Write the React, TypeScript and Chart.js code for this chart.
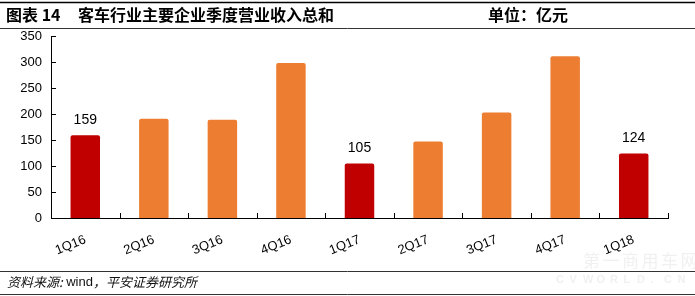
import React, { useEffect, useRef } from "react";
import { Chart, registerables } from "chart.js";

Chart.register(...registerables);

const categories = ["1Q16", "2Q16", "3Q16", "4Q16", "1Q17", "2Q17", "3Q17", "4Q17", "1Q18"];
const revenue = [159, 191, 189, 298, 105, 147, 203, 311, 124];
const highlighted = [true, false, false, false, true, false, false, false, true];
const yTicks = [0, 50, 100, 150, 200, 250, 300, 350];

const titleLeft = "图表 14";
const titleMain = "客车行业主要企业季度营业收入总和";
const titleUnit = "单位：亿元";
const sourceParts = [
  { text: "资料来源:", italic: true },
  { text: " wind", italic: false },
  { text: "，平安证券研究所", italic: true },
];

const RED = "#C00000";
const ORANGE = "#ED7D31";
const CJK = '"Noto Sans CJK SC", "Liberation Sans", sans-serif';
const LAT = '"Liberation Sans", Arial, sans-serif';

const decorPlugin = {
  id: "decor",
  beforeDraw(chart: any) {
    const ctx = chart.ctx;
    ctx.save();
    ctx.fillStyle = "#ffffff";
    ctx.fillRect(0, 0, chart.width, chart.height);
    // watermark
    ctx.fillStyle = "rgba(200,200,200,0.28)";
    ctx.font = `17px ${CJK}`;
    ctx.textBaseline = "middle";
    ctx.textAlign = "left";
    const wm = ["第", "一", "商", "用", "车", "网"];
    wm.forEach((c, i) => ctx.fillText(c, 583 + i * 19.5, 261));
    ctx.font = `bold 11px ${LAT}`;
    const wm2 = ["C", "V", "W", "O", "R", "L", "D", ".", "C", "N"];
    wm2.forEach((c, i) => ctx.fillText(c, 556 + i * 13.5, 280));
    ctx.restore();
  },
  afterDraw(chart: any) {
    const ctx = chart.ctx;
    ctx.save();
    // inward tick marks
    const ys = chart.scales.y;
    const area = chart.chartArea;
    ctx.strokeStyle = "#000000";
    ctx.lineWidth = 1;
    ctx.beginPath();
    const n = categories.length;
    for (let i = 1; i <= n; i++) {
      const x = Math.round(area.left + (i * (area.right - area.left)) / n) + 0.5;
      ctx.moveTo(x, area.bottom);
      ctx.lineTo(x, area.bottom - 5);
    }
    yTicks.forEach((v) => {
      const y = Math.round(ys.getPixelForValue(v)) + 0.5;
      ctx.moveTo(area.left, y);
      ctx.lineTo(area.left + 5, y);
    });
    ctx.stroke();

    ctx.strokeStyle = "#000000";
    ctx.lineWidth = 1.5;
    ctx.beginPath();
    ctx.moveTo(0, 2.5);
    ctx.lineTo(695, 2.5);
    ctx.stroke();
    ctx.lineWidth = 1;
    ctx.strokeStyle = "#333333";
    ctx.beginPath();
    ctx.moveTo(0, 28.5);
    ctx.lineTo(695, 28.5);
    ctx.moveTo(0, 271.5);
    ctx.lineTo(695, 271.5);
    ctx.moveTo(0, 294.5);
    ctx.lineTo(695, 294.5);
    ctx.stroke();

    ctx.fillStyle = "#000000";
    ctx.textBaseline = "middle";
    ctx.textAlign = "left";
    ctx.font = `bold 16px ${CJK}`;
    ctx.fillText(titleLeft, 6, 15);
    ctx.fillText(titleMain, 78, 15);
    ctx.fillText(titleUnit, 488, 15);

    ctx.fillStyle = "#111111";
    let sx = 7;
    sourceParts.forEach((p) => {
      ctx.font = p.italic ? `italic 13px ${CJK}` : `13px ${LAT}`;
      ctx.fillText(p.text, sx, 282);
      sx += ctx.measureText(p.text).width;
    });
    ctx.restore();
  },
};

const valueLabelPlugin = {
  id: "valueLabels",
  afterDatasetsDraw(chart: any) {
    const ctx = chart.ctx;
    const meta = chart.getDatasetMeta(0);
    ctx.save();
    ctx.font = `14px ${LAT}`;
    ctx.fillStyle = "#000000";
    ctx.textAlign = "center";
    ctx.textBaseline = "bottom";
    meta.data.forEach((bar: any, i: number) => {
      if (!highlighted[i]) return;
      ctx.fillText(String(revenue[i]), bar.x, bar.y - 8);
    });
    ctx.restore();
  },
};

export default function App() {
  const ref = useRef<HTMLCanvasElement>(null);
  useEffect(() => {
    if (!ref.current) return;
    const chart = new Chart(ref.current, {
      type: "bar",
      data: {
        labels: categories,
        datasets: [
          {
            data: revenue,
            backgroundColor: highlighted.map((h) => (h ? RED : ORANGE)),
            borderRadius: { topLeft: 2, topRight: 2, bottomLeft: 0, bottomRight: 0 },
            borderSkipped: "bottom",
            categoryPercentage: 1,
            barPercentage: 0.43,
          },
        ],
      },
      options: {
        responsive: false,
        animation: false,
        devicePixelRatio: 1,
        layout: { padding: { left: 0, top: 36, right: 27, bottom: 0 } },
        plugins: {
          legend: { display: false },
          tooltip: { enabled: false },
          title: { display: false },
        },
        scales: {
          x: {
            grid: { display: false, drawTicks: false },
            border: { display: true, color: "#000000", width: 1 },
            ticks: {
              maxRotation: 22,
              minRotation: 22,
              color: "#000000",
              font: { family: LAT, size: 13 },
              padding: 14,
              autoSkip: false,
            },
            afterFit(scale: any) {
              scale.height = 78;
            },
          },
          y: {
            min: 0,
            max: 350,
            afterBuildTicks(scale: any) {
              scale.ticks = yTicks.map((v) => ({ value: v }));
            },
            grid: { display: false, drawTicks: false },
            border: { display: true, color: "#000000", width: 1 },
            ticks: {
              color: "#000000",
              font: { family: LAT, size: 13 },
              padding: 9,
            },
            afterFit(scale: any) {
              scale.width = 51;
            },
          },
        },
      },
      plugins: [decorPlugin, valueLabelPlugin],
    });
    return () => chart.destroy();
  }, []);
  return (
    <div style={{ position: "fixed", left: 0, top: 0, width: 695, height: 296, background: "#fff" }}>
      <canvas ref={ref} width={695} height={296} style={{ display: "block", width: 695, height: 296 }} />
    </div>
  );
}
